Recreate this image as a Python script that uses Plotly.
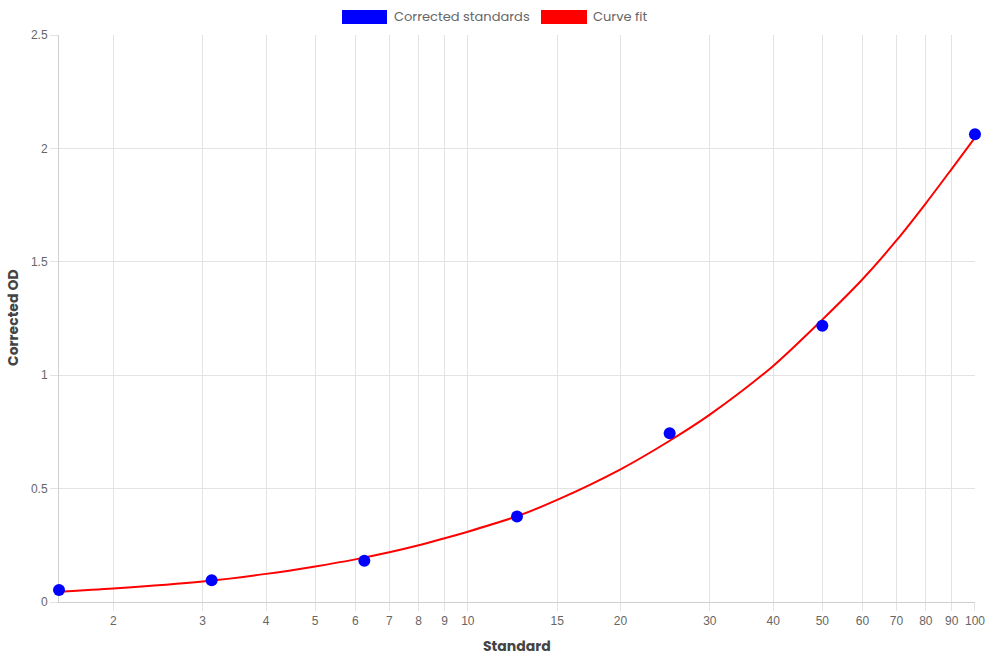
import plotly.graph_objects as go
import math

# Data
std_x = [1.5625, 3.125, 6.25, 12.5, 25, 50, 100]
std_od = [0.053, 0.096, 0.182, 0.377, 0.744, 1.218, 2.062]

fit_x = [1.5625, 2, 3, 4, 5, 6, 7, 8, 9, 10, 12.5, 15, 20, 25, 30, 40, 50, 60, 70, 80, 90, 100]
fit_y = [0.045, 0.059, 0.090, 0.124, 0.157, 0.188, 0.219, 0.250, 0.281, 0.310, 0.378,
         0.450, 0.585, 0.711, 0.826, 1.041, 1.245, 1.423, 1.594, 1.758, 1.910, 2.048]

x_ticks = [2, 3, 4, 5, 6, 7, 8, 9, 10, 15, 20, 30, 40, 50, 60, 70, 80, 90, 100]
x_ticklabels = [str(v) for v in x_ticks]
y_ticks = [0, 0.5, 1, 1.5, 2, 2.5]
y_ticklabels = ["0", "0.5", "1", "1.5", "2", "2.5"]

series_names = ["Corrected standards", "Curve fit"]
series_colors = ["#0000ff", "#ff0000"]

# Layout geometry (pixels)
W, H = 990, 660
L, R, T, B = 59, 975, 35, 602
pw, ph = R - L, B - T

def px(X):
    return (X - L) / pw

def py(Y):
    return (B - Y) / ph

legend_font = "Poppins, 'Open Sans', sans-serif"
tick_font = "'Liberation Sans', Arial, sans-serif"

fig = go.Figure()
fig.add_trace(go.Scatter(
    x=fit_x, y=fit_y, mode="lines", name=series_names[1],
    line=dict(color=series_colors[1], width=2, shape="spline", smoothing=0.8),
    showlegend=False, hoverinfo="skip", cliponaxis=False))
fig.add_trace(go.Scatter(
    x=std_x, y=std_od, mode="markers", name=series_names[0],
    marker=dict(color=series_colors[0], size=12, line=dict(width=0)),
    showlegend=False, cliponaxis=False))

grid = "#e3e3e3"
eps = 1e-5
fig.update_xaxes(
    type="log", range=[math.log10(std_x[0]) - eps, math.log10(100) + eps],
    tickvals=x_ticks, ticktext=x_ticklabels,
    showgrid=True, gridcolor=grid, gridwidth=1,
    ticks="outside", ticklen=8, tickcolor=grid,
    showline=True, linecolor="#cfcfcf", linewidth=1,
    zeroline=False, automargin=False, layer="below traces",
    tickfont=dict(family=tick_font, size=12, color="#666666"))
fig.update_yaxes(
    range=[0, 2.5], tickvals=y_ticks, ticktext=y_ticklabels,
    showgrid=True, gridcolor=grid, gridwidth=1,
    ticks="outside", ticklen=8, tickcolor=grid,
    showline=True, linecolor="#cfcfcf", linewidth=1,
    zeroline=False, automargin=False, layer="below traces",
    tickfont=dict(family=tick_font, size=12, color="#666666"))

shapes = []
annotations = []
# Legend boxes and labels
legend_items = [
    (342, 387, 392, series_names[0], series_colors[0]),
    (541, 587, 591, series_names[1], series_colors[1]),
]
for x0, x1, tx, name, col in legend_items:
    shapes.append(dict(type="rect", xref="paper", yref="paper",
                       x0=px(x0), x1=px(x1), y0=py(24), y1=py(10),
                       fillcolor=col, line=dict(width=0)))
    annotations.append(dict(text=name, xref="paper", yref="paper",
                            x=px(tx), y=py(17), xanchor="left", yanchor="middle",
                            showarrow=False,
                            font=dict(family=legend_font, size=13, color="#666666")))

annotations.append(dict(text="<b>Standard</b>", xref="paper", yref="paper",
                        x=0.5, y=py(646), xanchor="center", yanchor="middle",
                        showarrow=False,
                        font=dict(family=legend_font, size=14, color="#444444")))
annotations.append(dict(text="<b>Corrected OD</b>", xref="paper", yref="paper",
                        x=px(13), y=py(318), xanchor="center", yanchor="middle",
                        textangle=-90, showarrow=False,
                        font=dict(family=legend_font, size=14, color="#444444")))

fig.update_layout(
    width=W, height=H,
    margin=dict(l=L, r=W - R, t=T, b=H - B),
    paper_bgcolor="white", plot_bgcolor="white",
    shapes=shapes, annotations=annotations,
    showlegend=False,
)

fig.write_html("out.html")
